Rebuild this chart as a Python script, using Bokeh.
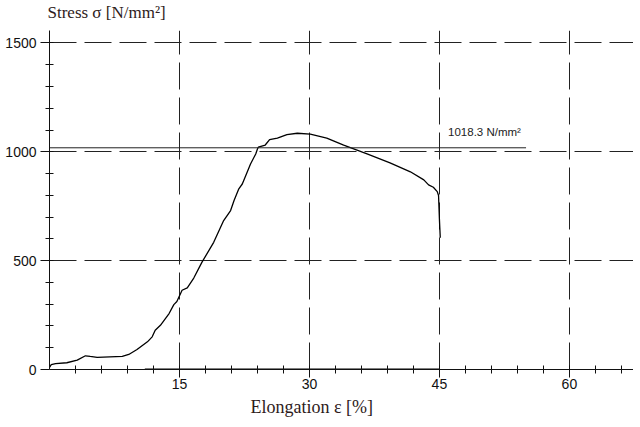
from bokeh.plotting import figure
from bokeh.models import FixedTicker, ColumnDataSource, Title
from bokeh.core.properties import value
from bokeh.embed import file_html
from bokeh.resources import INLINE

# ---- data ----
elong = [0.0, 0.2, 0.7, 2.0, 3.2, 4.15, 4.7, 5.5, 8.4, 9.15, 10.1, 11.3, 11.85, 12.2,
         12.8, 13.8, 14.35, 14.7, 15.3, 15.9, 16.65, 17.6, 18.95, 20.1, 20.9, 21.3,
         21.85, 22.25, 23.2, 23.8, 24.0, 24.1, 24.9, 25.4, 26.3, 27.4, 28.6, 30.1,
         32.0, 33.95, 36.65, 39.3, 41.65, 43.2, 43.75, 44.3, 44.75, 44.9, 45.0,
         45.05, 45.1]
stress = [10, 22, 27, 31, 43, 63, 60, 56, 60, 69, 92, 127, 150, 180,
          203, 257, 298, 312, 364, 375, 420, 493, 584, 684, 730, 776,
          830, 852, 944, 990, 1013, 1021, 1031, 1056, 1063, 1079, 1085, 1081,
          1063, 1031, 990, 949, 908, 871, 848, 837, 817, 799, 691,
          647, 605]
base_x = [11.0, 45.0]
base_y = [0, 0]
ann_value = 1018.3
ann_x = [0, 55]
ann_label = f"{ann_value} N/mm²"
x_major = [15, 30, 45, 60]
x_minor = [v for v in range(3, 67, 3)]
y_major = [0, 500, 1000, 1500]
y_minor = [v for v in range(100, 1600, 100)]

p = figure(frame_width=584, frame_height=339, x_range=(0, 67.4), y_range=(0, 1557),
           output_backend="svg", toolbar_location=None,
           min_border_left=49, min_border_right=0, min_border_top=30,
           min_border_bottom=20)
p.outline_line_color = None
p.background_fill_color = "white"
p.border_fill_color = "white"

p.title.text = "Stress σ [N/mm²]"
p.title.text_font = "Liberation Serif"
p.title.text_font_size = "17px"
p.title.text_font_style = "normal"
p.title.text_color = "#2e1b1b"
p.title.align = "left"
p.title.vertical_align = "top"
p.title.offset = -2
p.title.standoff = 0

# thin spacer between the frame and the title
spacer = Title(text=" ", text_font_size="4px", standoff=0)
p.add_layout(spacer, "above")

ink = "#111111"
for ax in (p.xaxis, p.yaxis):
    ax.axis_line_color = ink
    ax.axis_line_width = 1
    ax.major_tick_line_color = ink
    ax.minor_tick_line_color = ink
    ax.major_tick_in = 0
    ax.minor_tick_in = 4
    ax.minor_tick_out = 4
    ax.major_label_text_font = "Liberation Sans"
    ax.major_label_text_font_size = "14px"
    ax.major_label_text_color = ink

p.xaxis.ticker = FixedTicker(ticks=x_major, minor_ticks=x_minor)
p.yaxis.ticker = FixedTicker(ticks=y_major, minor_ticks=y_minor)
p.xaxis.major_tick_out = 8
p.yaxis.major_tick_out = 9
p.xaxis.major_label_standoff = 1
p.yaxis.major_label_standoff = 4

xlab = Title(text="Elongation ε [%]", text_font="Liberation Serif",
             text_font_size="18px", text_font_style="normal",
             text_color="#2e1b1b", align="left", offset=201, standoff=7)
p.add_layout(xlab, "below")

for g in (p.xgrid, p.ygrid):
    g.grid_line_color = "#222222"
    g.grid_line_width = 1
    g.grid_line_dash = "27 8"
p.xgrid.ticker = FixedTicker(ticks=x_major)
p.ygrid.ticker = FixedTicker(ticks=[500, 1000, 1500])

src = ColumnDataSource(data=dict(x=elong, y=stress))
p.line("x", "y", source=src, line_color="black", line_width=1.3)
p.line(base_x, base_y, line_color="black", line_width=2)
p.line(ann_x, [ann_value, ann_value], line_color="#222222", line_width=1)
p.text(x=[46], y=[1092], text=[ann_label], text_font=value("Liberation Sans"),
       text_font_size="11.5px", text_color="#222222", text_baseline="middle")

open("out.html", "w").write(file_html(p, INLINE))
